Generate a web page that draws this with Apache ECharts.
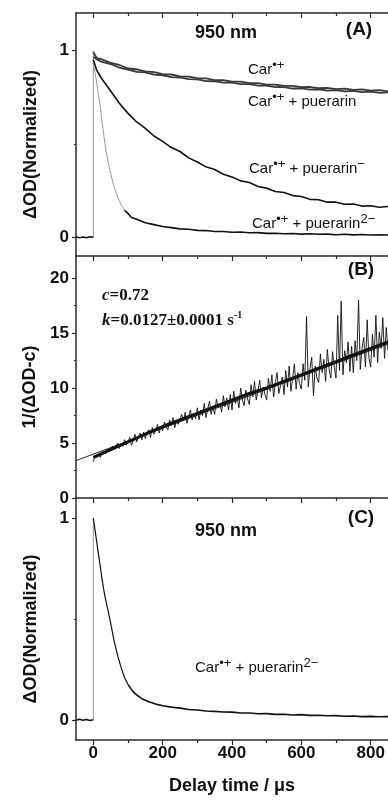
<!DOCTYPE html>
<html><head><meta charset="utf-8">
<script src="https://cdn.jsdelivr.net/npm/echarts@6/dist/echarts.min.js"></script>
<style>html,body{margin:0;padding:0;background:#fff}#c{width:388px;height:800px}</style>
</head><body><div id="c"></div>
<script>
// ---------- data ----------
const xTicks = [0, 200, 400, 600, 800];
const xMinor = [100, 300, 500, 700];
const yTicksA = [0, 1], yMinorA = [0.5];
const yTicksB = [0, 5, 10, 15, 20], yMinorB = [2.5, 7.5, 12.5, 17.5];
const yTicksC = [0, 1], yMinorC = [0.5];

// panel A
const tBase = [-50, -40, -30, -20, -10, 0];
const baseA = [0.003, -0.003, 0.002, -0.002, 0.003, 0];
const jumpT = [0, 0];
const jumpA = [0, 1.0];
const tA = [0,10,25,50,75,100,125,150,175,200,225,250,275,300,325,350,375,400,425,450,475,500,525,550,575,600,625,650,675,700,725,750,775,800,825,850];
const carRad = [0.990,0.958,0.952,0.933,0.922,0.903,0.899,0.888,0.884,0.873,0.871,0.861,0.860,0.851,0.850,0.841,0.841,0.833,0.833,0.825,0.825,0.817,0.817,0.810,0.810,0.803,0.804,0.798,0.799,0.793,0.795,0.789,0.791,0.785,0.787,0.781];
const carPuerarin = [0.965,0.952,0.938,0.927,0.908,0.897,0.885,0.882,0.870,0.867,0.857,0.855,0.846,0.845,0.836,0.835,0.827,0.827,0.819,0.819,0.811,0.811,0.803,0.804,0.796,0.797,0.790,0.792,0.785,0.787,0.781,0.783,0.777,0.779,0.773,0.775];
const carPuerarinMinus = [0.950,0.893,0.847,0.783,0.717,0.663,0.617,0.583,0.542,0.513,0.480,0.459,0.425,0.403,0.377,0.363,0.337,0.323,0.302,0.293,0.272,0.263,0.245,0.240,0.223,0.218,0.203,0.201,0.188,0.188,0.177,0.178,0.167,0.169,0.161,0.165];
const tFastA = [0,5,10,15,20,25,30,35,40,50,60,70,80,90];
const fastA = [0.93,0.88,0.82,0.76,0.70,0.62,0.55,0.48,0.43,0.34,0.27,0.215,0.175,0.145];
const tTailA = [90,100,110,125,150,175,200,225,250,275,300,325,350,375,400,425,450,475,500,525,550,575,600,625,650,675,700,725,750,775,800,825,850];
const tailA = [0.145,0.127,0.106,0.097,0.078,0.068,0.058,0.052,0.045,0.043,0.037,0.036,0.031,0.031,0.027,0.028,0.024,0.025,0.021,0.022,0.019,0.020,0.017,0.019,0.016,0.017,0.014,0.016,0.013,0.015,0.012,0.014,0.012];

// panel B
const tB = [0,5,10,15,20,25,30,35,40,45,50,55,60,65,70,75,80,85,90,95,100,105,110,115,120,125,130,135,140,145,150,155,160,165,170,175,180,185,190,195,200,205,210,215,220,225,230,235,240,245,250,255,260,265,270,275,280,285,290,295,300,305,310,315,320,325,330,335,340,345,350,355,360,365,370,375,380,385,390,395,400,405,410,415,420,425,430,435,440,445,450,455,460,465,470,475,480,485,490,495,500,505,510,515,520,525,530,535,540,545,550,555,560,565,570,575,580,585,590,595,600,605,610,615,620,625,630,635,640,645,650,655,660,665,670,675,680,685,690,695,700,705,710,715,720,725,730,735,740,745,750,755,760,765,770,775,780,785,790,795,800,805,810,815,820,825,830,835,840,845,850];
const invB = [
 3.3,3.9,3.7,4.0,3.7,4.2,4.1,4.0,4.4,4.2,
 4.1,4.7,4.4,4.5,5.0,4.5,4.9,4.7,5.3,4.8,
 4.9,5.5,4.8,5.2,5.8,5.1,5.5,5.9,5.3,6.0,
 5.4,6.0,6.2,5.5,6.4,5.8,6.1,6.7,5.9,6.5,
 6.1,6.9,6.5,6.2,7.1,6.6,7.3,6.4,7.1,6.7,
 6.6,7.6,7.0,7.8,6.8,7.4,8.0,7.1,7.7,7.2,
 8.2,7.1,8.0,7.5,8.6,7.3,8.1,8.8,7.6,8.3,
 7.6,9.0,8.2,8.6,7.8,9.3,8.3,9.1,8.0,9.4,
 8.0,9.7,8.6,9.2,8.2,10.0,8.9,8.4,9.8,9.0,
 8.5,10.3,9.2,10.6,8.9,9.8,10.7,9.1,10.1,9.4,
 8.9,10.9,9.7,11.2,9.2,10.5,11.4,9.5,10.2,11.0,
 9.4,11.6,10.1,12.0,9.7,10.9,12.2,9.9,11.4,10.4,
 9.9,12.2,10.7,16.5,10.1,11.8,12.8,9.3,12.0,10.9,
 10.5,13.1,11.4,12.6,10.6,13.5,11.7,10.9,13.3,11.9,
 10.9,16.6,11.6,17.9,11.2,13.4,12.3,14.2,11.5,13.8,
 11.4,14.3,12.5,18.0,11.7,13.6,14.6,11.9,16.2,12.7,
 11.9,14.9,12.8,16.6,12.3,15.1,13.6,16.4,12.7,15.5,
 13.4];
// dense dark core of the noisy trace
const tCoreB = [0,50,100,150,200,250,300,350,400,450,500,550,600,650,700,750,800,850];
const coreB = [3.7,4.4,5.1,5.8,6.5,7.1,7.7,8.3,8.9,9.5,10.0,10.6,11.2,11.8,12.4,13.0,13.6,14.2];
const fitT = [-50, 850];
const fitB = [3.4, 14.0];

// panel C
const baseC = [-0.002, 0.003, -0.002, 0.002, -0.003, 0];
const jumpC = [0, 1.0];
const tFastC = [0,5,10,15,20,25,30,35,40,45,50,60,70,80,90,100];
const fastC = [1.0,0.94,0.88,0.82,0.76,0.70,0.645,0.60,0.56,0.52,0.48,0.39,0.32,0.26,0.21,0.175];
const tTailC = [100,110,120,140,160,180,200,225,250,275,300,325,350,375,400,425,450,475,500,525,550,575,600,625,650,675,700,725,750,775,800,825,850];
const tailC = [0.175,0.150,0.130,0.105,0.090,0.078,0.070,0.063,0.058,0.051,0.049,0.044,0.042,0.039,0.038,0.034,0.034,0.030,0.031,0.027,0.028,0.024,0.026,0.022,0.023,0.020,0.021,0.018,0.019,0.016,0.017,0.015,0.016];

// ---------- chart ----------
const pairs = (xs, ys) => xs.map((x, i) => [x, ys[i]]);
const SANS = "'Liberation Sans', Arial, Helvetica, sans-serif";
const SERIF = "'Liberation Serif', 'Times New Roman', serif";
const AX = '#2a2a2a';
const TXT = '#111';

function xAx(grid, o) {
  return {
    type: 'value', gridIndex: grid, min: -50, max: 850,
    position: o.pos || 'bottom',
    axisLine: { show: !!o.line, onZero: false, lineStyle: { color: AX, width: 1.5 } },
    axisTick: { show: true, inside: !!o.inside, length: o.len, customValues: o.ticks, lineStyle: { color: AX, width: 1.2 } },
    axisLabel: o.labels ? { show: true, customValues: o.ticks, color: TXT, fontFamily: SANS, fontWeight: 'bold', fontSize: 17, margin: 5 } : { show: false },
    splitLine: { show: false },
    name: o.name || '', nameLocation: 'middle', nameGap: o.nameGap || 0,
    nameTextStyle: { color: TXT, fontFamily: SANS, fontWeight: 'bold', fontSize: 18 }
  };
}
function yAx(grid, min, max, o) {
  return {
    type: 'value', gridIndex: grid, min: min, max: max, position: 'left',
    axisLine: { show: !!o.line, onZero: false, lineStyle: { color: AX, width: 1.5 } },
    axisTick: { show: true, inside: false, length: o.len, customValues: o.ticks, lineStyle: { color: AX, width: 1.2 } },
    axisLabel: o.labels ? { show: true, customValues: o.ticks, color: TXT, fontFamily: SANS, fontWeight: 'bold', fontSize: 17, margin: 7 } : { show: false },
    splitLine: { show: false },
    name: o.name || '', nameLocation: 'middle', nameGap: o.nameGap || 0, nameRotate: 90,
    nameTextStyle: { color: TXT, fontFamily: SANS, fontWeight: 'bold', fontSize: 18, padding: [0, 20, 0, 0] }
  };
}
function line(data, xi, yi, color, w) {
  return { type: 'line', data: data, xAxisIndex: xi, yAxisIndex: yi, showSymbol: false, symbol: 'none',
    lineStyle: { color: color, width: w }, itemStyle: { color: color }, animation: false, silent: true, clip: true };
}

const chart = echarts.init(document.getElementById('c'), null, { renderer: 'canvas' });
const supRich = {
  n: { fontFamily: SANS, fontSize: 15, lineHeight: 22, fill: TXT, color: TXT },
  s: { fontFamily: SANS, fontSize: 13, lineHeight: 4, verticalAlign: 'top', fill: TXT, color: TXT }
};
function label(x, y, text) {
  return { type: 'text', x: x, y: y, silent: true, style: { text: text, rich: supRich, fill: TXT, verticalAlign: 'middle', align: 'left' } };
}
function bold(x, y, text, size) {
  return { type: 'text', x: x, y: y, silent: true, style: { text: text, fill: TXT, font: 'bold ' + size + 'px ' + SANS, align: 'center', verticalAlign: 'middle' } };
}
const serifRich = {
  i: { fontFamily: SERIF, fontSize: 17, fontWeight: 'bold', fontStyle: 'italic', lineHeight: 22, fill: TXT, color: TXT },
  b: { fontFamily: SERIF, fontSize: 17, fontWeight: 'bold', lineHeight: 22, fill: TXT, color: TXT },
  s: { fontFamily: SERIF, fontSize: 10, fontWeight: 'bold', lineHeight: 8, verticalAlign: 'top', fill: TXT, color: TXT }
};

chart.setOption({
  animation: false,
  backgroundColor: '#fff',
  grid: [
    { left: 76, right: 0, top: 13, height: 243 },
    { left: 76, right: 0, top: 256, height: 242 },
    { left: 76, right: 0, top: 498, height: 242 }
  ],
  xAxis: [
    xAx(0, { line: true, ticks: xTicks, len: 5 }),
    xAx(0, { ticks: xMinor, len: 3 }),
    xAx(0, { pos: 'top', line: true, inside: true, ticks: xTicks, len: 5 }),
    xAx(0, { pos: 'top', inside: true, ticks: xMinor, len: 3 }),
    xAx(1, { line: true, ticks: xTicks, len: 5 }),
    xAx(1, { ticks: xMinor, len: 3 }),
    xAx(2, { line: true, ticks: xTicks, len: 5, labels: true, name: 'Delay time / μs', nameGap: 37 }),
    xAx(2, { ticks: xMinor, len: 3 })
  ],
  yAxis: [
    yAx(0, -0.1, 1.2, { line: true, ticks: yTicksA, len: 4, labels: true, name: 'ΔOD(Normalized)', nameGap: 36 }),
    yAx(0, -0.1, 1.2, { ticks: yMinorA, len: 2 }),
    yAx(1, 0, 22, { line: true, ticks: yTicksB, len: 4, labels: true, name: '1/(ΔOD-c)', nameGap: 36 }),
    yAx(1, 0, 22, { ticks: yMinorB, len: 2 }),
    yAx(2, -0.1, 1.1, { line: true, ticks: yTicksC, len: 4, labels: true, name: 'ΔOD(Normalized)', nameGap: 36 }),
    yAx(2, -0.1, 1.1, { ticks: yMinorC, len: 2 })
  ],
  series: [
    line(pairs(jumpT, jumpA), 0, 0, '#9a9a9a', 1),
    line(pairs(tBase, baseA), 0, 0, '#111', 1.5),
    line(pairs(tA, carRad), 0, 0, '#3a3a3a', 1.8),
    line(pairs(tA, carPuerarin), 0, 0, '#3a3a3a', 1.8),
    line(pairs(tA, carPuerarinMinus), 0, 0, '#111', 1.6),
    line(pairs(tFastA, fastA), 0, 0, '#9a9a9a', 1),
    line(pairs(tTailA, tailA), 0, 0, '#111', 1.6),
    line(pairs(fitT, fitB), 4, 2, '#222', 1),
    line(pairs(tB, invB), 4, 2, '#111', 0.9),
    line(pairs(tCoreB, coreB), 4, 2, '#111', 3),
    line(pairs(jumpT, jumpC), 6, 4, '#9a9a9a', 1),
    line(pairs(tBase, baseC), 6, 4, '#111', 1.5),
    line(pairs(tFastC, fastC), 6, 4, '#111', 1.2),
    line(pairs(tTailC, tailC), 6, 4, '#111', 1.6)
  ],
  graphic: [
    bold(226, 33, '950 nm', 18),
    bold(359, 30, '(A)', 19),
    label(248, 70, '{n|Car}{s|•+}'),
    label(248, 102, '{n|Car}{s|•+}{n| + puerarin}'),
    label(249, 169, '{n|Car}{s|•+}{n| + puerarin}{s|−}'),
    label(252, 224, '{n|Car}{s|•+}{n| + puerarin}{s|2−}'),
    bold(361, 270, '(B)', 19),
    { type: 'text', x: 102, y: 296, silent: true, style: { text: '{i|c}{b|=0.72}', rich: serifRich, fill: TXT, verticalAlign: 'middle' } },
    { type: 'text', x: 102, y: 321, silent: true, style: { text: '{i|k}{b|=0.0127±0.0001 s}{s|-1}', rich: serifRich, fill: TXT, verticalAlign: 'middle' } },
    bold(361, 518, '(C)', 19),
    bold(226, 531, '950 nm', 18),
    label(195, 668, '{n|Car}{s|•+}{n| + puerarin}{s|2−}')
  ]
});
</script>
</body></html>
